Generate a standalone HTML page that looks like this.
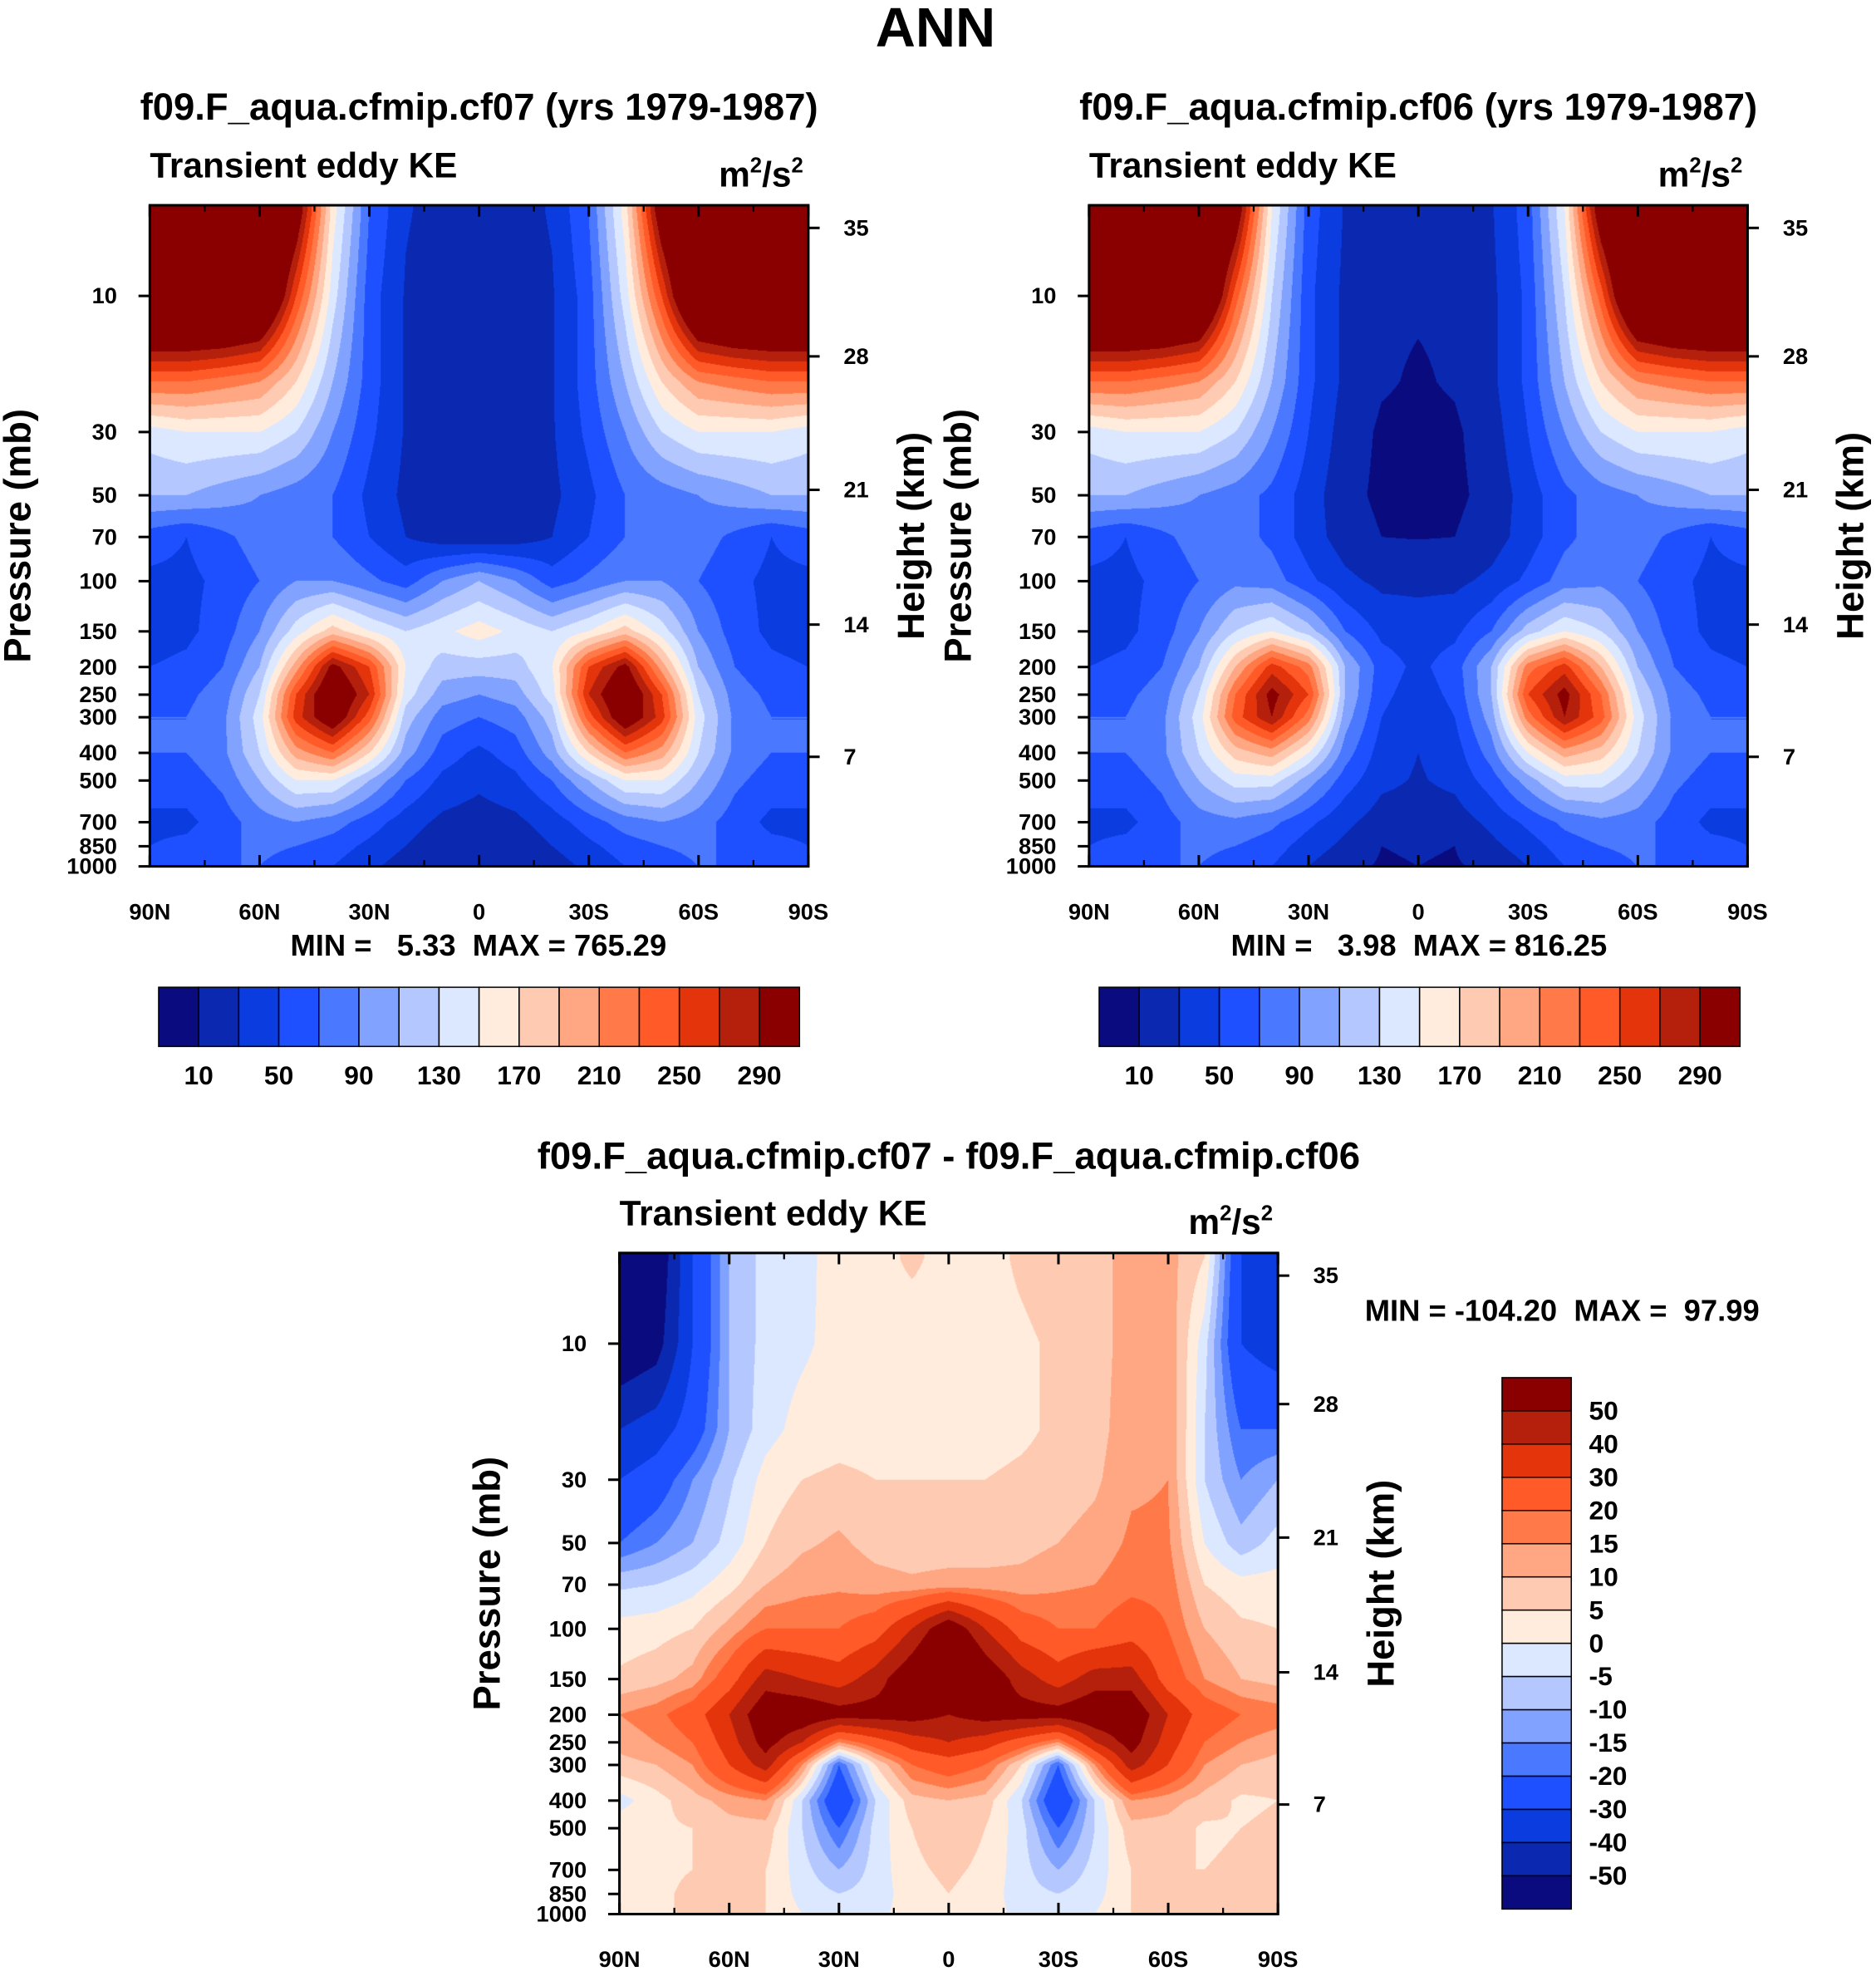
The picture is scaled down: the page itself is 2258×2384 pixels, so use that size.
<!DOCTYPE html>
<html><head><meta charset="utf-8">
<style>
html,body{margin:0;padding:0;background:#fff;}
#root{position:absolute;left:0;top:0;width:1490px;height:1573px;transform:scale(1.51544);transform-origin:0 0;overflow:hidden;font-family:"Liberation Sans",Arial,sans-serif;font-weight:bold;}
canvas{position:absolute;}
svg{position:absolute;left:0;top:0;}
svg text{white-space:pre;}
</style></head>
<body>
<div id="root">
<svg id="ov" width="1490" height="1573" viewBox="0 0 1490 1573"></svg>
</div>
<script>
// ---- data ----
const lats = [90,80,70,60,50,40,30,20,10,0,-10,-20,-30,-40,-50,-60,-70,-80,-90];
const plevs = [5,10,20,30,50,70,100,150,200,250,300,400,500,700,850,1000];
const fillLevels = [10,30,50,70,90,110,130,150,170,190,210,230,250,270,290];
const diffLevels = [-50,-40,-30,-20,-15,-10,-5,0,5,10,15,20,30,40,50];
const cbLabels1 = ["10","50","90","130","170","210","250","290"];
const presTicks = [10,30,50,70,100,150,200,250,300,400,500,700,850,1000];
const heightTicks = [35,28,21,14,7];
const heightTickY = [18,120,226,333,438]; // offset from plot top (displayed px) for 35,28,21,14,7 km
const xTickLats = [90,60,30,0,-30,-60,-90];
const xTickLabels = ["90N","60N","30N","0","30S","60S","90S"];
const colors = ["#0b0b80","#0a28b0","#0a3ce0","#1e50ff","#4a78ff","#82a2ff","#b4c8ff","#dce8ff","#ffecdc","#ffcab2","#ffa682","#ff7a48","#ff5a28","#e3340c","#b5200c","#8a0000"];
const half1 = [
[400,400,400,400,320,160,70,32,22,20],
[400,400,400,380,250,140,60,28,18,17],
[230,230,220,210,170,110,60,28,16,15],
[140,150,150,150,130,90,55,28,14,14],
[110,110,100,90,80,70,45,25,14,14],
[60,50,65,80,80,70,50,30,18,15],
[45,45,55,70,90,90,75,60,90,110],
[40,45,60,90,140,180,150,130,145,160],
[50,55,70,110,200,300,250,150,120,120],
[60,65,80,130,250,330,270,140,100,90],
[70,70,85,140,260,320,240,120,80,70],
[70,70,85,130,200,230,170,100,60,45],
[60,60,75,110,150,150,110,70,45,35],
[45,45,60,80,90,80,60,40,25,20],
[50,55,65,75,70,60,45,30,15,15],
[55,60,70,70,60,50,35,20,10,12]];
const half2 = [
[400,400,400,400,320,150,60,28,15,15],
[400,400,400,380,240,130,55,25,13,12],
[230,230,220,210,170,110,55,25,12,8],
[140,150,150,150,130,90,50,20,7,5],
[110,110,100,90,80,65,40,16,6,5],
[60,50,65,80,80,65,40,20,10,9],
[45,45,55,70,85,80,55,35,25,25],
[40,45,60,90,130,150,120,70,45,40],
[50,55,70,110,190,260,220,110,60,45],
[60,65,80,130,230,300,250,110,55,40],
[70,70,85,140,240,290,220,100,50,35],
[70,70,85,130,180,200,150,80,40,30],
[60,60,75,110,140,140,100,60,35,28],
[45,45,60,80,85,75,55,35,20,20],
[50,55,65,75,70,60,40,25,10,12],
[55,60,70,70,60,50,30,15,8,10]];
const diff = [
[-70,-60,-30,-10,-3,-2,3,3,6,3,3,6,8,8,12,12,5,-30,-40],
[-60,-55,-30,-10,-3,-1,2,3,2,3,3,4,6,8,12,14,-3,-30,-35],
[-40,-35,-25,-10,-2,2,3,3,3,3,3,4,6,8,13,15,-5,-20,-20],
[-30,-25,-15,-6,2,5,6,5,5,5,5,6,7,9,14,15,-5,-15,-10],
[-20,-15,-10,-3,5,9,11,8,7,7,7,8,10,12,16,16,0,-8,-3],
[-6,-5,-2,3,10,13,14,12,11,12,12,12,14,15,18,18,5,2,2],
[2,3,5,12,20,20,20,25,40,60,40,25,20,20,25,20,10,6,5],
[6,8,12,25,45,40,35,45,60,80,60,45,35,45,45,25,15,10,8],
[15,18,25,40,60,60,55,55,55,50,55,55,55,60,60,40,25,20,18],
[12,15,20,35,55,40,15,25,35,40,35,25,15,40,55,35,20,15,12],
[8,10,15,30,45,15,-20,5,20,25,20,5,-20,15,45,30,15,10,8],
[-2,3,8,12,15,-5,-30,-5,8,10,8,-5,-30,-5,15,12,8,4,5],
[3,4,5,8,8,-5,-20,-3,5,8,5,-3,-20,-5,8,8,4,5,6],
[3,4,5,5,5,-3,-10,-3,4,6,4,-3,-10,-3,5,5,5,6,6],
[3,4,6,6,5,-2,-5,-3,3,5,3,-3,-5,-2,5,6,6,7,7],
[3,4,6,6,5,0,-4,-2,3,4,3,-2,-4,0,5,6,7,8,8]];
function mirror(h){return h.map(r=>r.concat(r.slice(0,9).reverse()));}
const field1 = mirror(half1), field2 = mirror(half2);

const S = 1.51544;
const NS="http://www.w3.org/2000/svg";
const ov=document.getElementById('ov');
const root=document.getElementById('root');
function el(tag,attrs,txt){const e=document.createElementNS(NS,tag);for(const k in attrs)e.setAttribute(k,attrs[k]);if(txt!==undefined)e.textContent=txt;ov.appendChild(e);return e;}
function txt(x,y,s,size,anchor,name,rot){const t=el('text',{x:x,y:y,'font-size':size,'text-anchor':anchor||'middle','font-family':'Liberation Sans, Arial, sans-serif','font-weight':'bold',fill:'#000'},s);


if(rot)t.setAttribute('transform','rotate(-90 '+x+' '+y+')');return t;}
function levIdx(v,levs){let i=0;while(i<levs.length&&v>=levs[i])i++;return i;}
function interp(field,lat,p){
  let fi=(90-lat)/10; fi=Math.max(0,Math.min(17.9999,fi)); const i=Math.floor(fi), a=fi-i;
  const lp=Math.log10(p); let j=0; let b=0;
  if(p>plevs[0]){while(j<plevs.length-2&&p>plevs[j+1])j++;b=(lp-Math.log10(plevs[j]))/(Math.log10(plevs[j+1])-Math.log10(plevs[j]));b=Math.max(0,Math.min(1,b));}
  const r0=field[j],r1=field[j+1];
  return (r0[i]*(1-a)+r0[i+1]*a)*(1-b)+(r1[i]*(1-a)+r1[i+1]*a)*b;
}
function hexRgb(h){return [parseInt(h.substr(1,2),16),parseInt(h.substr(3,2),16),parseInt(h.substr(5,2),16)];}
const rgb=colors.map(hexRgb);

function panel(o){
  const L=o.x0,T=o.y0,W=523,H=525,B=T+H;
  const dec=226.5;
  const xOf=lat=>L+(90-lat)/180*W;
  const yOf=p=>B-dec*Math.log10(1000/p);
  const cv=document.createElement('canvas');
  
  
  const cw=Math.round(W*S),ch=Math.round(H*S);
  cv.width=cw;cv.height=ch;cv.style.left=L+'px';cv.style.top=T+'px';cv.style.width=W+'px';cv.style.height=H+'px';
  root.insertBefore(cv,ov);
  const ctx=cv.getContext('2d');const img=ctx.createImageData(cw,ch);
  for(let py=0;py<ch;py++){const yd=T+(py+0.5)/S;const p=1000/Math.pow(10,(B-yd)/dec);
    for(let px=0;px<cw;px++){const lat=90-((px+0.5)/S)/W*180;const v=interp(o.field,lat,p);const c=rgb[levIdx(v,o.levs)];const k=(py*cw+px)*4;img.data[k]=c[0];img.data[k+1]=c[1];img.data[k+2]=c[2];img.data[k+3]=255;}}
  ctx.putImageData(img,0,0);
  const fr=el('rect',{x:L,y:T,width:W,height:H,fill:'none',stroke:'#000','stroke-width':2});
  
  
  xTickLats.forEach((lat,i)=>{const x=xOf(lat);
    el('line',{x1:x,y1:B,x2:x,y2:B-9,stroke:'#000','stroke-width':2});
    el('line',{x1:x,y1:T,x2:x,y2:T+9,stroke:'#000','stroke-width':2});
    txt(x,B+42,xTickLabels[i],18,'middle',o.name+'-x-tick-label');});
  [75,45,15,-15,-45,-75].forEach(lat=>{const x=xOf(lat);
    el('line',{x1:x,y1:B,x2:x,y2:B-5,stroke:'#000','stroke-width':1.5});
    el('line',{x1:x,y1:T,x2:x,y2:T+5,stroke:'#000','stroke-width':1.5});});
  presTicks.forEach(p=>{const y=yOf(p);
    el('line',{x1:L,y1:y,x2:L-9,y2:y,stroke:'#000','stroke-width':2});
    txt(L-26,y+6,String(p),18,'end',o.name+'-pressure-tick-label');});
  heightTicks.forEach((h,i)=>{const y=T+heightTickY[i];
    el('line',{x1:L+W,y1:y,x2:L+W+9,y2:y,stroke:'#000','stroke-width':2});
    txt(L+W+28,y+6,String(h),18,'start',o.name+'-height-tick-label');});
  txt(o.px,T+H/2,'Pressure (mb)',30,'middle',o.name+'-y-axis-title',true).setAttribute('dominant-baseline','middle');
  txt(L+W+84,T+H/2,'Height (km)',30,'middle',o.name+'-right-axis-title',true).setAttribute('dominant-baseline','middle');
  txt(L,T-22,'Transient eddy KE',28,'start',o.name+'-variable-label');
  const u=el('text',{x:L+W-4,y:T-15,'font-size':28,'text-anchor':'end','font-family':'Liberation Sans, Arial, sans-serif','font-weight':'bold'});
  
  
  u.innerHTML='m<tspan dy="-11" font-size="17">2</tspan><tspan dy="11">/s</tspan><tspan dy="-11" font-size="17">2</tspan>';
  txt(L+W/2,o.titleY,o.title,30,'middle',o.name+'-title');
}
function hbar(x0,y0,w,h,name){const bw=w/16;
  colors.forEach((c,i)=>{const r=el('rect',{x:x0+i*bw,y:y0,width:bw,height:h,fill:c,stroke:'#000','stroke-width':1});
    
    });
  cbLabels1.forEach((s,i)=>txt(x0+(2*i+1)*bw,y0+h+30,s,21,'middle',name+'-label'));}
function vbar(x0,y0,w,h,name){const bh=h/16;
  colors.slice().reverse().forEach((c,i)=>{const r=el('rect',{x:x0,y:y0+i*bh,width:w,height:bh,fill:c,stroke:'#000','stroke-width':1});
    
    });
  diffLevels.slice().reverse().forEach((v,i)=>txt(x0+w+14,y0+(i+1)*bh+7,String(v),21,'start',name+'-label'));}

txt(743,37,'ANN',44,'middle','figure-title');
panel({name:'panel-cf07',x0:119,y0:163,field:field1,levs:fillLevels,px:16,title:'f09.F_aqua.cfmip.cf07 (yrs 1979-1987)',titleY:95});
panel({name:'panel-cf06',x0:865,y0:163,field:field2,levs:fillLevels,px:763,title:'f09.F_aqua.cfmip.cf06 (yrs 1979-1987)',titleY:95});
panel({name:'panel-diff',x0:492,y0:995,field:diff,levs:diffLevels,px:389,title:'f09.F_aqua.cfmip.cf07 - f09.F_aqua.cfmip.cf06',titleY:928});
txt(380,759,'MIN =   5.33  MAX = 765.29',24,'middle','panel-cf07-min-max');
txt(1127,759,'MIN =   3.98  MAX = 816.25',24,'middle','panel-cf06-min-max');
txt(1084,1049,'MIN = -104.20  MAX =  97.99',24,'start','panel-diff-min-max');
hbar(126,784,509,47,'colorbar-cf07');
hbar(873,784,509,47,'colorbar-cf06');
vbar(1193,1094,55,422,'colorbar-diff');
</script>
</body></html>
